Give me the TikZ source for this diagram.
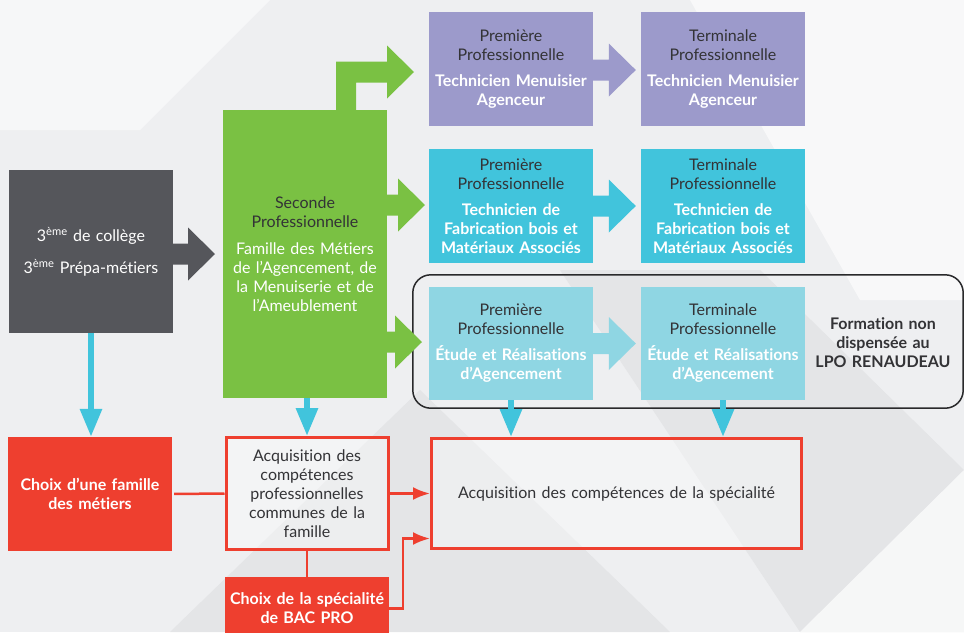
\documentclass[tikz,border=0pt]{standalone}
\usepackage{fontspec}
\setmainfont{Lato}[Ligatures=NoCommon]
\usetikzlibrary{calc,arrows.meta}

\definecolor{bgc}{HTML}{EEEFF1}
\definecolor{bgdark}{HTML}{E4E5E7}
\definecolor{txtc}{HTML}{333336}
\definecolor{darkc}{HTML}{55565B}
\definecolor{greenc}{HTML}{7AC143}
\definecolor{purplec}{HTML}{9C9ACB}
\definecolor{cyanc}{HTML}{41C4DC}
\definecolor{lcyanc}{HTML}{8FD6E3}
\definecolor{redc}{HTML}{EE3F2F}

% block arrow: colour, box side, tip
\newcommand{\fatarrow}[3]{%
  \path (#2 |- #3) coordinate (fas);
  \fill[#1] ($(fas)+(0,-10.5)$) -- ($(#3)+(-27,-10.5)$) -- ($(#3)+(-27,-26.5)$)
    -- (#3) -- ($(#3)+(-27,26.5)$) -- ($(#3)+(-27,10.5)$) -- ($(fas)+(0,10.5)$) -- cycle;}

\begin{document}
\begin{tikzpicture}[x=1pt,y=-1pt,
    box/.style={minimum width=164, text width=162, align=center, inner sep=0,
      font=\fontsize{16}{19}\selectfont, text=txtc},
    hi/.style={text=white, font=\fontsize{16}{19}\selectfont\bfseries},
    bluearr/.style={draw=cyanc, line width=6, -{Triangle[width=21pt,length=28pt]}},
    redline/.style={draw=redc, line width=2.5},
    redarr/.style={redline, -{Latex[width=13pt,length=17pt]}}]

  % background
  \fill[bgc] (0,0) rectangle (964,632);
  \clip (0,0) rectangle (964,632);
  \fill[white, opacity=.5] (0,0) -- (270,0) -- (140,130) -- (0,130) -- cycle;
  \fill[white, opacity=.6] (690,0) -- (964,0) -- (964,300) -- (860,300) -- cycle;
  \fill[bgdark] (170,632) -- (420,390) -- (670,632) -- cycle;
  \fill[bgdark] (560,270) -- (760,270) -- (964,470) -- (964,632) -- (800,632) -- cycle;
  \fill[white, opacity=.7] (800,632) -- (964,470) -- (964,632) -- cycle;

  % boxes
  \node[box, fill=darkc, minimum height=163, text=white] (c3) at (91,251.5)
    {3\textsuperscript{ème} de collège\\[13pt]3\textsuperscript{ème} Prépa-métiers};
  \node[box, fill=greenc, minimum height=288] (sec) at (305,254)
    {Seconde\\Professionnelle\\[8pt]{\color{white}Famille des Métiers\\de l’Agencement, de\\la Menuiserie et de\\l’Ameublement}};

  \node[box, fill=purplec, minimum height=114] (p1) at (511,69)
    {Première\\Professionnelle\\[7pt]{\bfseries\color{white}Technicien Menuisier\\Agenceur}};
  \node[box, fill=purplec, minimum height=114] (t1) at (723,69)
    {Terminale\\Professionnelle\\[7pt]{\bfseries\color{white}Technicien Menuisier\\Agenceur}};
  \node[box, fill=cyanc, minimum height=114] (p2) at (511,206)
    {Première\\Professionnelle\\[7pt]{\bfseries\color{white}Technicien de\\Fabrication bois et\\Matériaux Associés}};
  \node[box, fill=cyanc, minimum height=114] (t2) at (723,206)
    {Terminale\\Professionnelle\\[7pt]{\bfseries\color{white}Technicien de\\Fabrication bois et\\Matériaux Associés}};
  \node[box, fill=lcyanc, minimum height=113] (p3) at (511,343.5)
    {Première\\Professionnelle\\[7pt]{\bfseries\color{white}Étude et Réalisations\\d’Agencement}};
  \node[box, fill=lcyanc, minimum height=113] (t3) at (723,343.5)
    {Terminale\\Professionnelle\\[7pt]{\bfseries\color{white}Étude et Réalisations\\d’Agencement}};
  \node[box, font=\fontsize{16}{19}\selectfont\bfseries, text width=150] (note) at (883,343)
    {Formation non\\dispensée au\\LPO RENAUDEAU};
  \draw[txtc!80!black, line width=1.5, rounded corners=18]
    ($(p3.north west)+(-16,-12)$) rectangle ($(t3.south east)+(158,8)$);

  \node[box, fill=redc, minimum height=114, hi] (choixfam) at (90,494)
    {Choix d’une famille\\des métiers};
  \node[box, draw=redc, line width=3, fill=white, fill opacity=.35, text opacity=1,
    minimum width=161, minimum height=112] (acqfam) at (307,493.5)
    {Acquisition des\\compétences\\professionnelles\\communes de la\\famille};
  \node[box, fill=redc, minimum height=63, hi] (choixspe) at (307,608.5)
    {Choix de la spécialité\\de BAC PRO};
  \node[box, draw=redc, line width=3, fill=white, fill opacity=.35, text opacity=1,
    minimum width=370, minimum height=110, text width=360] (acqspe) at (616.5,493.5)
    {Acquisition des compétences de la spécialité};

  % block arrows
  \coordinate (a0) at (414,72);
  \coordinate (a1) at (215,254);
  \coordinate (a2) at (425,205);
  \coordinate (a3) at (422,342);
  \path ($(t1.west)+(-5,1)$) coordinate (a4)
        ($(t2.west)+(-5,0)$) coordinate (a5)
        ($(t3.west)+(-5,0)$) coordinate (a6);
  \fatarrow{darkc}{c3.east}{a1}
  \fatarrow{greenc}{sec.east}{a2}
  \fatarrow{greenc}{sec.east}{a3}
  \fill[greenc] ([xshift=31pt]sec.north) |- ($(a0)+(-27,-10.5)$) -- ($(a0)+(-27,-26.5)$)
    -- (a0) -- ($(a0)+(-27,26.5)$) -- ($(a0)+(-27,10.5)$) -| ([xshift=51pt]sec.north) -- cycle;
  \fatarrow{purplec}{p1.east}{a4}
  \fatarrow{cyanc}{p2.east}{a5}
  \fatarrow{lcyanc}{p3.east}{a6}

  % downward arrows
  \draw[bluearr] (c3.south) -- (c3.south |- choixfam.north);
  \draw[bluearr] (acqfam.north |- sec.south) -- (acqfam.north);
  \draw[bluearr] (p3.south) -- (p3.south |- acqspe.north);
  \draw[bluearr] (t3.south) -- (t3.south |- acqspe.north);

  % red connectors
  \draw[redline, shorten <=2pt] (choixfam.east) -- (acqfam.west);
  \draw[redline] (acqfam.south) -- (choixspe.north);
  \draw[redarr] (acqfam.east) -- (acqfam.east -| acqspe.west);
  \draw[redarr] (choixspe.east) -- ++(14,0) |- ($(acqspe.west)+(0,45)$);
\end{tikzpicture}
\end{document}
